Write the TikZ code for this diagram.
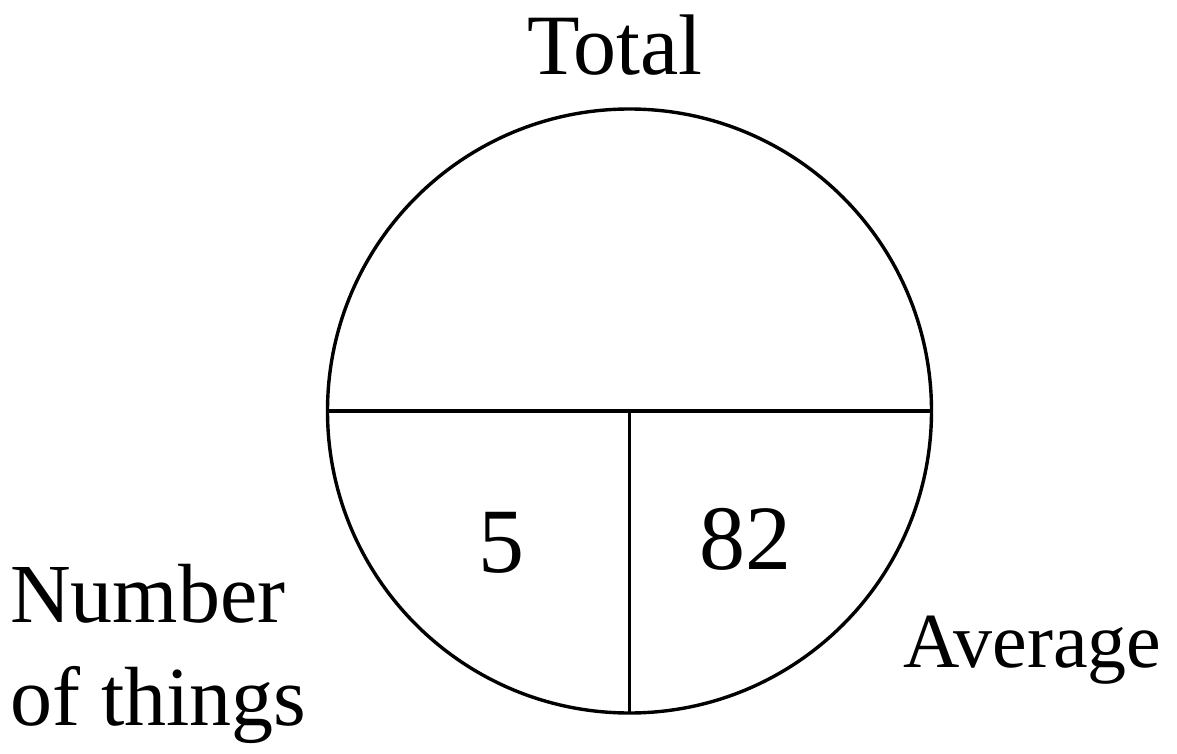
\documentclass[tikz,border=0pt]{standalone}
\usepackage{fontspec}
\setmainfont{Liberation Serif}
\begin{document}
\begin{tikzpicture}[x=1pt,y=-1pt,
  line/.style={line width=3.4pt, black},
  lbl/.style={inner sep=0pt, font=\fontsize{84}{100}\selectfont},
  num/.style={inner sep=0pt, font=\fontsize{92}{100}\selectfont}]
\useasboundingbox (0,0) rectangle (1177,754);
\coordinate (c) at (629.5,411);
\draw[line] (c) circle[radius=302];
\coordinate (l) at (327.5,411);
\coordinate (r) at (931.5,411);
\coordinate (m) at (629.5,411);
\coordinate (b) at (629.5,713);
\draw[line] (l) -- (r);
\draw[line] (m) -- (b);
\node[lbl, anchor=base, font=\fontsize{86}{100}\selectfont] (total) at (615,75) {Total};
\node[lbl, anchor=base west] (number) at (10,622) {Number};
\node[lbl, anchor=base west] (things) at (10,725) {of things};
\node[lbl, anchor=base west, font=\fontsize{78}{90}\selectfont] (avg) at (903,667) {Average};
\node[num, anchor=base] (five) at (501,572) {5};
\node[num, anchor=base] (eighty) at (745,569) {82};
\end{tikzpicture}
\end{document}
